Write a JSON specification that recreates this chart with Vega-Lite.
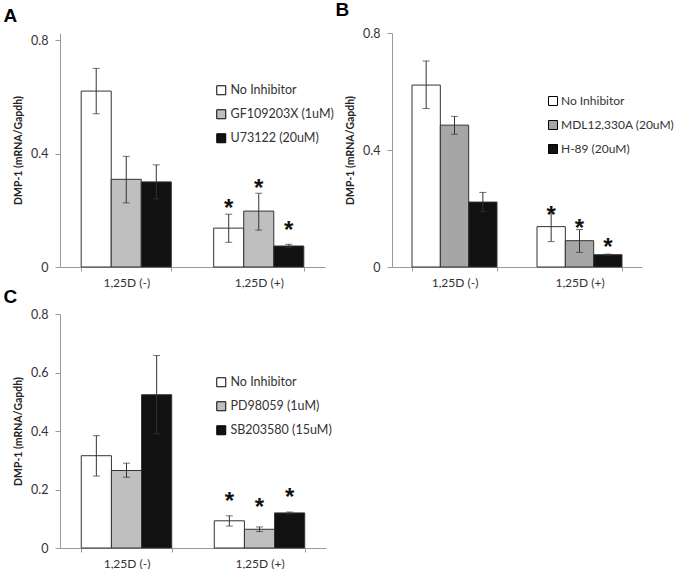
{
  "$schema": "https://vega.github.io/schema/vega-lite/v6.json",
  "background": "white",
  "padding": {"left": 3, "top": 1, "right": 0, "bottom": 0},
  "datasets": {
    "A": [
      {"cond": "1,25D (-)", "trt": "No Inhibitor", "value": 0.62, "lo": 0.54, "hi": 0.70, "star": null},
      {"cond": "1,25D (-)", "trt": "GF109203X (1uM)", "value": 0.309, "lo": 0.226, "hi": 0.39, "star": null},
      {"cond": "1,25D (-)", "trt": "U73122 (20uM)", "value": 0.30, "lo": 0.24, "hi": 0.36, "star": null},
      {"cond": "1,25D (+)", "trt": "No Inhibitor", "value": 0.137, "lo": 0.087, "hi": 0.186, "star": 0.226},
      {"cond": "1,25D (+)", "trt": "GF109203X (1uM)", "value": 0.197, "lo": 0.13, "hi": 0.26, "star": 0.295},
      {"cond": "1,25D (+)", "trt": "U73122 (20uM)", "value": 0.074, "lo": 0.068, "hi": 0.08, "star": 0.149}
    ],
    "B": [
      {"cond": "1,25D (-)", "trt": "No Inhibitor", "value": 0.622, "lo": 0.542, "hi": 0.704, "star": null},
      {"cond": "1,25D (-)", "trt": "MDL12,330A (20uM)", "value": 0.485, "lo": 0.454, "hi": 0.515, "star": null},
      {"cond": "1,25D (-)", "trt": "H-89 (20uM)", "value": 0.222, "lo": 0.19, "hi": 0.255, "star": null},
      {"cond": "1,25D (+)", "trt": "No Inhibitor", "value": 0.138, "lo": 0.087, "hi": 0.194, "star": 0.195},
      {"cond": "1,25D (+)", "trt": "MDL12,330A (20uM)", "value": 0.09, "lo": 0.05, "hi": 0.128, "star": 0.149},
      {"cond": "1,25D (+)", "trt": "H-89 (20uM)", "value": 0.042, "lo": 0.04, "hi": 0.044, "star": 0.084}
    ],
    "C": [
      {"cond": "1,25D (-)", "trt": "No Inhibitor", "value": 0.3155, "lo": 0.246, "hi": 0.384, "star": null},
      {"cond": "1,25D (-)", "trt": "PD98059 (1uM)", "value": 0.265, "lo": 0.242, "hi": 0.29, "star": null},
      {"cond": "1,25D (-)", "trt": "SB203580 (15uM)", "value": 0.524, "lo": 0.39, "hi": 0.658, "star": null},
      {"cond": "1,25D (+)", "trt": "No Inhibitor", "value": 0.093, "lo": 0.075, "hi": 0.11, "star": 0.178},
      {"cond": "1,25D (+)", "trt": "PD98059 (1uM)", "value": 0.064, "lo": 0.056, "hi": 0.072, "star": 0.156},
      {"cond": "1,25D (+)", "trt": "SB203580 (15uM)", "value": 0.12, "lo": 0.117, "hi": 0.123, "star": 0.19}
    ]
  },
  "config": {
    "view": {"stroke": null},
    "font": "Lato",
    "axis": {"domainColor": "#9a9a9a", "tickColor": "#9a9a9a", "labelColor": "#333333", "grid": false, "titleColor": "#222222", "labelFont": "Lato"},
    "axisX": {"title": null, "labelAngle": 0, "tickBand": "extent", "tickSize": 4, "labelPadding": 6, "labelFontSize": 12},
    "axisY": {"format": "~g", "tickSize": 5, "labelPadding": 7, "labelFontSize": 12.5, "titleFontSize": 10.5, "titleFontWeight": "bold", "titlePadding": 7, "titleFont": "Lato"},
    "legend": {"orient": "none", "title": null, "symbolType": "square", "symbolSize": 81, "symbolStrokeColor": "#000000", "symbolStrokeWidth": 1, "labelFontSize": 12.5, "labelColor": "#333333", "labelFont": "Lato", "rowPadding": 10, "labelOffset": 3, "labelLimit": 200},
    "title": {"anchor": "start", "frame": "bounds", "fontSize": 19, "font": "Liberation Sans", "fontWeight": "bold", "color": "#000000"}
  },
  "spacing": 0,
  "resolve": {"scale": {"fill": "independent", "xOffset": "independent", "x": "independent", "y": "independent"}, "legend": {"fill": "independent"}},
  "vconcat": [
    {
      "spacing": 1,
      "resolve": {"scale": {"fill": "independent", "xOffset": "independent", "x": "independent", "y": "independent"}, "legend": {"fill": "independent"}},
      "hconcat": [
        {
          "title": {"text": "A", "offset": 7, "dx": -10},
          "width": 265, "height": 234,
          "data": {"name": "A"},
          "encoding": {
            "x": {"field": "cond", "type": "nominal", "sort": ["1,25D (-)", "1,25D (+)"], "scale": {"paddingInner": 0.32, "paddingOuter": 0.16}},
            "xOffset": {"field": "trt", "type": "nominal", "scale": {"domain": ["No Inhibitor", "GF109203X (1uM)", "U73122 (20uM)"]}}
          },
          "layer": [
            {"mark": {"type": "bar", "stroke": "#333333", "strokeWidth": 1},
             "encoding": {
               "y": {"field": "value", "type": "quantitative", "title": "DMP-1 (mRNA/Gapdh)", "scale": {"domain": [0, 0.8247], "nice": false}, "axis": {"values": [0, 0.4, 0.8]}},
               "fill": {"field": "trt", "type": "nominal", "scale": {"domain": ["No Inhibitor", "GF109203X (1uM)", "U73122 (20uM)"], "range": ["#ffffff", "#bfbfbf", "#111111"]}, "legend": {"legendX": 155, "legendY": 51}}
             }},
            {"mark": {"type": "rule", "color": "#333333"}, "encoding": {"y": {"field": "lo", "type": "quantitative", "title": "DMP-1 (mRNA/Gapdh)"}, "y2": {"field": "hi"}}},
            {"mark": {"type": "tick", "color": "#333333", "size": 7, "thickness": 1}, "encoding": {"y": {"field": "lo", "type": "quantitative", "title": "DMP-1 (mRNA/Gapdh)"}}},
            {"mark": {"type": "tick", "color": "#333333", "size": 7, "thickness": 1}, "encoding": {"y": {"field": "hi", "type": "quantitative", "title": "DMP-1 (mRNA/Gapdh)"}}},
            {"mark": {"type": "text", "text": "*", "fontSize": 24, "fontWeight": "bold", "baseline": "middle", "dy": 6, "color": "#111111", "font": "Liberation Sans"}, "encoding": {"y": {"field": "star", "type": "quantitative", "title": "DMP-1 (mRNA/Gapdh)"}}}
          ]
        },
        {
          "title": {"text": "B", "offset": 7, "dx": -10},
          "width": 250, "height": 234,
          "data": {"name": "B"},
          "encoding": {
            "x": {"field": "cond", "type": "nominal", "sort": ["1,25D (-)", "1,25D (+)"], "scale": {"paddingInner": 0.32, "paddingOuter": 0.16}},
            "xOffset": {"field": "trt", "type": "nominal", "scale": {"domain": ["No Inhibitor", "MDL12,330A (20uM)", "H-89 (20uM)"]}}
          },
          "layer": [
            {"mark": {"type": "bar", "stroke": "#333333", "strokeWidth": 1},
             "encoding": {
               "y": {"field": "value", "type": "quantitative", "title": "DMP-1 (mRNA/Gapdh)", "scale": {"domain": [0, 0.8], "nice": false}, "axis": {"values": [0, 0.4, 0.8]}},
               "fill": {"field": "trt", "type": "nominal", "scale": {"domain": ["No Inhibitor", "MDL12,330A (20uM)", "H-89 (20uM)"], "range": ["#ffffff", "#a6a6a6", "#111111"]}, "legend": {"legendX": 155, "legendY": 62, "labelFontSize": 12, "labelOffset": 2}}
             }},
            {"mark": {"type": "rule", "color": "#333333"}, "encoding": {"y": {"field": "lo", "type": "quantitative", "title": "DMP-1 (mRNA/Gapdh)"}, "y2": {"field": "hi"}}},
            {"mark": {"type": "tick", "color": "#333333", "size": 7, "thickness": 1}, "encoding": {"y": {"field": "lo", "type": "quantitative", "title": "DMP-1 (mRNA/Gapdh)"}}},
            {"mark": {"type": "tick", "color": "#333333", "size": 7, "thickness": 1}, "encoding": {"y": {"field": "hi", "type": "quantitative", "title": "DMP-1 (mRNA/Gapdh)"}}},
            {"mark": {"type": "text", "text": "*", "fontSize": 24, "fontWeight": "bold", "baseline": "middle", "dy": 6, "color": "#111111", "font": "Liberation Sans"}, "encoding": {"y": {"field": "star", "type": "quantitative", "title": "DMP-1 (mRNA/Gapdh)"}}}
          ]
        }
      ]
    },
    {
      "title": {"text": "C", "offset": 1, "dx": -10},
      "width": 266, "height": 234,
      "data": {"name": "C"},
      "encoding": {
        "x": {"field": "cond", "type": "nominal", "sort": ["1,25D (-)", "1,25D (+)"], "scale": {"paddingInner": 0.32, "paddingOuter": 0.16}},
        "xOffset": {"field": "trt", "type": "nominal", "scale": {"domain": ["No Inhibitor", "PD98059 (1uM)", "SB203580 (15uM)"]}}
      },
      "layer": [
        {"mark": {"type": "bar", "stroke": "#333333", "strokeWidth": 1},
         "encoding": {
           "y": {"field": "value", "type": "quantitative", "title": "DMP-1 (mRNA/Gapdh)", "scale": {"domain": [0, 0.8], "nice": false}, "axis": {"values": [0, 0.2, 0.4, 0.6, 0.8]}},
           "fill": {"field": "trt", "type": "nominal", "scale": {"domain": ["No Inhibitor", "PD98059 (1uM)", "SB203580 (15uM)"], "range": ["#ffffff", "#bfbfbf", "#111111"]}, "legend": {"legendX": 155, "legendY": 62}}
         }},
        {"mark": {"type": "rule", "color": "#333333"}, "encoding": {"y": {"field": "lo", "type": "quantitative", "title": "DMP-1 (mRNA/Gapdh)"}, "y2": {"field": "hi"}}},
        {"mark": {"type": "tick", "color": "#333333", "size": 7, "thickness": 1}, "encoding": {"y": {"field": "lo", "type": "quantitative", "title": "DMP-1 (mRNA/Gapdh)"}}},
        {"mark": {"type": "tick", "color": "#333333", "size": 7, "thickness": 1}, "encoding": {"y": {"field": "hi", "type": "quantitative", "title": "DMP-1 (mRNA/Gapdh)"}}},
        {"mark": {"type": "text", "text": "*", "fontSize": 24, "fontWeight": "bold", "baseline": "middle", "dy": 6, "color": "#111111", "font": "Liberation Sans"}, "encoding": {"y": {"field": "star", "type": "quantitative", "title": "DMP-1 (mRNA/Gapdh)"}}}
      ]
    }
  ]
}
